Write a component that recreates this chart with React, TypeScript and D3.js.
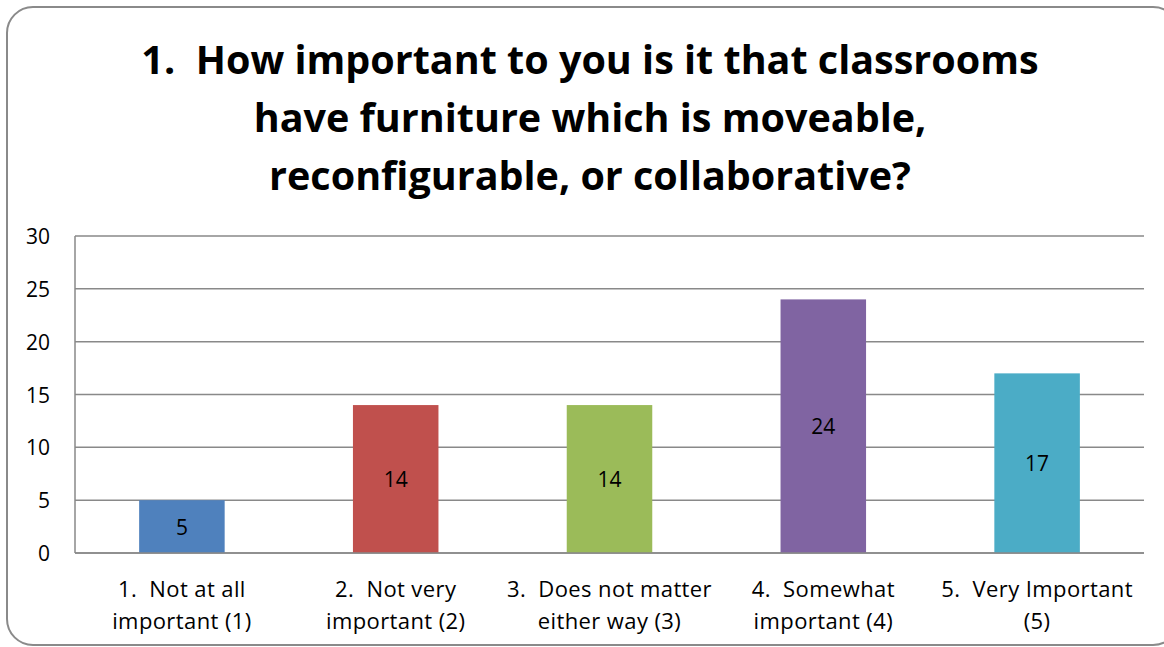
import React from "react";
import * as d3 from "d3";

const categories = [
  ["1.  Not at all", "important (1)"],
  ["2.  Not very", "important (2)"],
  ["3.  Does not matter", "either way (3)"],
  ["4.  Somewhat", "important (4)"],
  ["5.  Very Important", "(5)"],
];
const values = [5, 14, 14, 24, 17];
const colors = ["#4F81BD", "#C0504D", "#9BBB59", "#8064A2", "#4BACC6"];
const yTicks = [0, 5, 10, 15, 20, 25, 30];
const titleLines = [
  "1.  How important to you is it that classrooms",
  "have furniture which is moveable,",
  "reconfigurable, or collaborative?",
];

const W = 1164;
const H = 647;
const FONT = "'Open Sans', sans-serif";

export default function App() {
  const left = 75, right = 1144, top = 236, bottom = 553;
  const x = d3
    .scaleBand<number>()
    .domain(d3.range(values.length))
    .range([left, right])
    .paddingInner(0.6)
    .paddingOuter(0.3);
  const y = d3.scaleLinear().domain([0, 30]).range([bottom, top]);

  return (
    <svg
      width={W}
      height={H}
      style={{ position: "absolute", left: 0, top: 0, background: "#fff", whiteSpace: "pre" }}
      fontFamily={FONT}
    >
      <rect x={7} y={7} width={1172} height={638} rx={26} ry={26} fill="#fff" stroke="#8a8a8a" strokeWidth={2} />
      {titleLines.map((t, i) => (
        <text
          key={i}
          x={590}
          y={59 + i * 58}
          textAnchor="middle"
          dominantBaseline="central"
          fontSize={39.5}
          fontWeight="bold"
          fill="#000"
          style={{ whiteSpace: "pre" }}
        >
          {t}
        </text>
      ))}
      {yTicks.map((t) => (
        <g key={t}>
          <line x1={left} x2={right} y1={y(t)} y2={y(t)} stroke="#898989" strokeWidth={1.5} />
          <text x={50} y={y(t)} textAnchor="end" dominantBaseline="central" fontSize={21} fill="#000">
            {t}
          </text>
        </g>
      ))}
      <line x1={left} x2={left} y1={top} y2={bottom} stroke="#898989" strokeWidth={1.5} />
      {values.map((v, i) => (
        <g key={i}>
          <rect x={x(i)} y={y(v)} width={x.bandwidth()} height={y(0) - y(v)} fill={colors[i]} />
          <text
            x={x(i)! + x.bandwidth() / 2}
            y={(y(v) + y(0)) / 2}
            textAnchor="middle"
            dominantBaseline="central"
            fontSize={21}
            fill="#000"
          >
            {v}
          </text>
          {categories[i].map((l, j) => (
            <text
              key={j}
              x={x(i)! + x.bandwidth() / 2}
              y={588 + j * 32}
              textAnchor="middle"
              dominantBaseline="central"
              fontSize={22}
              letterSpacing={0.4}
              fill="#000"
              style={{ whiteSpace: "pre" }}
            >
              {l}
            </text>
          ))}
        </g>
      ))}
      <line x1={left} x2={right} y1={bottom} y2={bottom} stroke="#898989" strokeWidth={1.5} />
    </svg>
  );
}
